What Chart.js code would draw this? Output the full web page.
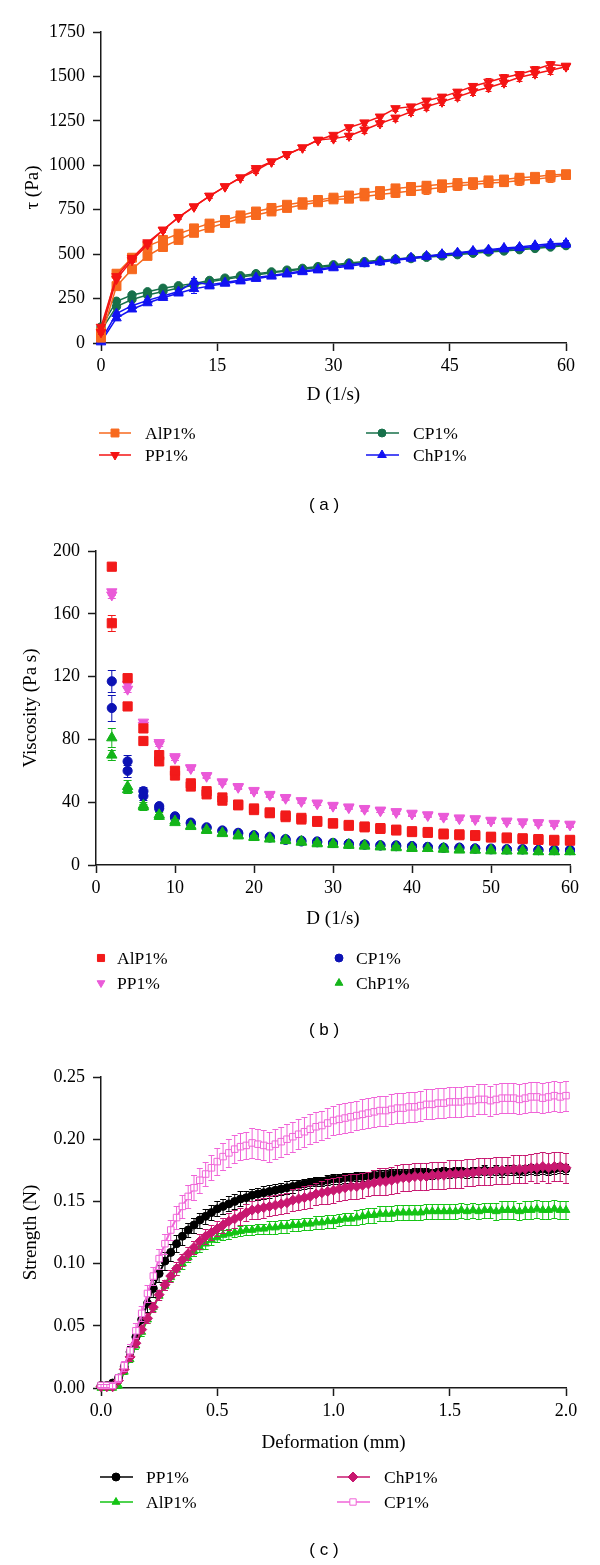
<!DOCTYPE html>
<html lang="en">
<head>
<meta charset="UTF-8">
<title>Flow curves, viscosity and texture</title>
<script src="https://cdn.jsdelivr.net/npm/chart.js"></script>
<style>
  body { margin: 0; background: #fff; }
  .panel { position: absolute; left: 0; width: 600px; }
</style>
</head>
<body>
<div class="panel" style="top:0;height:520px"><canvas id="chart-a" width="600" height="520"></canvas></div>
<div class="panel" style="top:520px;height:520px"><canvas id="chart-b" width="600" height="520"></canvas></div>
<div class="panel" style="top:1040px;height:525px"><canvas id="chart-c" width="600" height="525"></canvas></div>

<script>
// ---------- (a) shear stress vs shear rate, up and down curves ----------
const shearRate = [0,2,4,6,8,10,12,14,16,18,20,22,24,26,28,30,32,34,36,38,40,42,44,46,48,50,52,54,56,58,60];
const alpUp   = [60,390,480,545,580,615,645,672,692,718,740,760,778,792,805,818,830,845,855,870,878,885,893,900,905,915,920,930,935,945,950];
const alpDown = [30,320,415,490,540,580,620,648,675,700,720,740,760,778,792,808,812,825,835,845,855,865,875,885,892,900,905,915,922,932,945];
const ppUp    = [90,375,477,565,636,707,767,827,880,930,983,1020,1061,1099,1142,1170,1213,1240,1273,1320,1330,1363,1385,1413,1445,1469,1494,1512,1539,1567,1559];
const ppDown  = [60,360,465,555,636,707,767,827,880,930,970,1020,1061,1099,1142,1150,1165,1200,1235,1267,1301,1329,1357,1385,1415,1438,1464,1495,1515,1535,1555];
const cpUp    = [90,235,270,288,308,322,335,352,365,378,390,400,410,420,430,440,450,458,465,472,480,488,495,502,510,518,525,532,538,545,550];
const cpDown  = [70,205,245,270,290,310,325,345,358,372,383,395,405,415,425,435,444,452,460,468,475,482,490,497,505,512,518,525,532,540,548];
const chpUp   = [15,165,210,240,265,290,345,328,340,355,368,380,392,405,415,428,440,450,460,470,480,490,500,508,518,525,535,540,550,558,562];
const chpDown = [5,140,190,225,255,280,305,320,335,348,362,375,387,400,410,422,432,445,455,466,476,486,496,505,514,520,528,535,543,550,555];
const errAlpA = [10,10,10,10,10,10,12,12,12,12,14,14,14,16,16,16,18,20,22,24,24,24,24,24,24,24,24,24,24,24,24];
const errPpA  = [8,8,8,10,10,10,10,10,10,10,12,12,12,12,12,14,16,16,16,16,16,18,18,18,20,20,20,20,20,20,12];
const errCpA  = [8,8,6,6,6,6,6,6,6,6,6,6,6,6,6,6,6,6,6,6,6,6,6,6,6,6,6,8,8,8,8];
const errChpA = [6,8,8,8,8,8,22,8,8,8,8,8,8,8,8,8,8,8,8,8,10,10,10,10,10,10,10,12,14,14,16];

// ---------- (b) viscosity vs shear rate ----------
const visRate = [2,4,6,8,10,12,14,16,18,20,22,24,26,28,30,32,34,36,38,40,42,44,46,48,50,52,54,56,58,60];
const visAlpA = [190,119,87,70,60,52,47,43,38.5,36,33.5,31.5,30,28,26.5,25.5,24.5,23.5,22.5,21.5,21,20,19.5,19,18,17.5,17,16.5,16,16];
const visAlpB = [154,101,79,66,57,50,45,41,38,35,33,30.5,29,27.5,26.5,25,24,23,22,21,20.5,19.5,19,18.5,17.5,17,16.5,16,15.5,15.5];
const visPpA  = [174,115,91,78,69,62,57,53,50,47.5,45,43,41,39.5,38,37,36,35,34,33,32,31,30,29.5,28.5,28,27.5,27,26.5,26];
const visPpB  = [172,112,89,77,68,61.5,56.5,52.5,49.5,47,44.5,42.5,40.5,39,37.5,36.5,35.5,34.5,33.5,32.5,31.5,30.5,29.5,29,28,27.5,27,26.5,26,25.5];
const visCpA  = [117,66,47,37.5,31,27,24,22,20.5,19,18,16.5,15.5,15,14,13.5,13,12.5,12.5,12,11.5,11,11,10.5,10.5,10,10,9.5,9.5,9.5];
const visCpB  = [100,60,44,36,30,26.5,23.5,21.5,20,18.5,17.5,16,15,14.5,14,13.5,13,12.5,12,12,11.5,11,11,10.5,10,10,10,9.5,9.5,9.5];
const visChpA = [81,50,38,32,28,25,22.5,20.5,19,18,17,16,15,14,13.5,13,12.5,12,11.5,11,10.5,10.5,10,9.5,9.5,9,9,8.5,8.5,8.5];
const visChpB = [70,48,37,31,27,24.5,22,20,18.5,17.5,16.5,15.5,14.5,13.5,13,12.5,12,11.5,11,10.5,10.5,10,9.5,9.5,9,9,9,8.5,8.5,8.5];
const visErrAlpA = [2,1.5,1.5,1.5,1.5,1,1,1,1,1,1,1,1,1,1,1,1,1,1,1,1,1,1,1,1,1,1,1,1,1];
const visErrAlpB = [5,1.5,1.5,1.5,1.5,1,1,1,1,1,1,1,1,1,1,1,1,1,1,1,1,1,1,1,1,1,1,1,1,1];
const visErrPpA  = [2,2,1.5,1,1,1,1,1,1,1,1,1,1,1,1,1,1,1,1,1,1,1,1,1,1,1,1,1,1,1];
const visErrPpB  = [2,2,1.5,1,1,1,1,1,1,1,1,1,1,1,1,1,1,1,1,1,1,1,1,1,1,1,1,1,1,1];
const visErrCpA  = [7,4,2.5,1.5,1,1,1,1,1,1,1,1,1,1,1,1,1,1,1,1,1,1,1,1,1,1,1,1,1,1];
const visErrCpB  = [8,4,2.5,1.5,1,1,1,1,1,1,1,1,1,1,1,1,1,1,1,1,1,1,1,1,1,1,1,1,1,1];
const visErrChpA = [6,4,2,1.5,1,1,1,1,1,1,1,1,1,1,1,1,1,1,1,1,1,1,1,1,1,1,1,1,1,1];
const visErrChpB = [3,2,2,1.5,1,1,1,1,1,1,1,1,1,1,1,1,1,1,1,1,1,1,1,1,1,1,1,1,1,1];

// ---------- (c) strength vs deformation, sampled every 0.025 mm ----------
const deformation = Array.from({ length: 81 }, (_, i) => +(i * 0.025).toFixed(3));
const strPP = [
  0.002,0.002,0.004,0.008,0.017,0.029,0.041,0.055,0.068,0.080,
  0.092,0.102,0.109,0.116,0.122,0.127,0.131,0.135,0.138,0.141,
  0.144,0.146,0.148,0.150,0.152,0.153,0.155,0.156,0.157,0.158,
  0.159,0.160,0.161,0.162,0.163,0.164,0.165,0.166,0.166,0.167,
  0.168,0.168,0.169,0.169,0.170,0.170,0.170,0.171,0.171,0.171,
  0.172,0.172,0.172,0.172,0.173,0.173,0.173,0.172,0.173,0.174,
  0.173,0.174,0.174,0.173,0.174,0.174,0.175,0.174,0.175,0.174,
  0.175,0.175,0.174,0.175,0.176,0.175,0.176,0.175,0.176,0.177,
  0.176];
const strAlP = [
  0.000,0.000,0.000,0.002,0.013,0.023,0.034,0.045,0.055,0.065,
  0.074,0.082,0.089,0.095,0.100,0.105,0.110,0.113,0.116,0.119,
  0.121,0.123,0.124,0.125,0.126,0.127,0.127,0.128,0.128,0.129,
  0.129,0.130,0.130,0.131,0.131,0.132,0.132,0.133,0.133,0.134,
  0.134,0.135,0.136,0.136,0.137,0.138,0.139,0.139,0.140,0.140,
  0.140,0.141,0.141,0.141,0.141,0.141,0.142,0.142,0.142,0.142,
  0.142,0.142,0.143,0.142,0.143,0.142,0.143,0.143,0.142,0.143,
  0.143,0.143,0.142,0.143,0.143,0.144,0.143,0.143,0.144,0.143,
  0.143];
const strChP = [
  0.001,0.001,0.001,0.006,0.015,0.025,0.036,0.047,0.056,0.065,
  0.075,0.083,0.090,0.096,0.103,0.108,0.113,0.118,0.122,0.125,
  0.128,0.131,0.134,0.136,0.138,0.141,0.143,0.144,0.145,0.146,
  0.147,0.148,0.149,0.151,0.152,0.153,0.154,0.156,0.157,0.158,
  0.159,0.160,0.161,0.162,0.162,0.163,0.164,0.165,0.166,0.166,
  0.167,0.168,0.169,0.169,0.170,0.170,0.170,0.171,0.171,0.171,
  0.172,0.172,0.172,0.173,0.173,0.174,0.174,0.174,0.175,0.175,
  0.175,0.176,0.176,0.176,0.177,0.177,0.178,0.177,0.178,0.178,
  0.177];
const strCP = [
  0.002,0.002,0.002,0.008,0.018,0.030,0.046,0.060,0.076,0.090,
  0.104,0.116,0.127,0.137,0.146,0.154,0.161,0.167,0.172,0.177,
  0.182,0.186,0.189,0.192,0.194,0.195,0.197,0.196,0.195,0.194,
  0.196,0.198,0.200,0.202,0.204,0.206,0.208,0.210,0.211,0.213,
  0.215,0.216,0.217,0.218,0.219,0.220,0.221,0.222,0.223,0.223,
  0.224,0.225,0.225,0.226,0.226,0.227,0.228,0.228,0.229,0.229,
  0.230,0.230,0.230,0.231,0.231,0.232,0.232,0.231,0.232,0.233,
  0.233,0.233,0.232,0.233,0.234,0.234,0.233,0.234,0.235,0.234,
  0.235];
const errStrPP = [
  0.001,0.001,0.002,0.003,0.004,0.005,0.006,0.006,0.007,0.007,
  0.007,0.007,0.007,0.007,0.007,0.006,0.006,0.006,0.006,0.006,
  0.006,0.006,0.006,0.006,0.006,0.005,0.005,0.005,0.005,0.005,
  0.005,0.005,0.005,0.005,0.004,0.004,0.004,0.004,0.004,0.004,
  0.004,0.004,0.004,0.004,0.004,0.004,0.004,0.004,0.004,0.004,
  0.004,0.004,0.004,0.004,0.004,0.004,0.004,0.004,0.004,0.004,
  0.004,0.004,0.004,0.004,0.004,0.004,0.004,0.004,0.004,0.004,
  0.004,0.004,0.004,0.004,0.004,0.004,0.004,0.004,0.004,0.004,
  0.004];
const errStrAlP = [
  0.001,0.001,0.001,0.002,0.002,0.002,0.003,0.003,0.003,0.003,
  0.003,0.003,0.003,0.004,0.004,0.004,0.004,0.004,0.004,0.004,
  0.004,0.004,0.004,0.004,0.004,0.004,0.004,0.004,0.004,0.005,
  0.005,0.005,0.005,0.005,0.005,0.005,0.005,0.005,0.005,0.005,
  0.005,0.005,0.005,0.005,0.006,0.006,0.006,0.006,0.006,0.006,
  0.006,0.006,0.006,0.006,0.006,0.006,0.006,0.006,0.006,0.006,
  0.006,0.006,0.006,0.006,0.006,0.006,0.006,0.006,0.007,0.007,
  0.007,0.007,0.007,0.007,0.007,0.007,0.007,0.007,0.007,0.007,
  0.007];
const errStrChP = [
  0.001,0.001,0.001,0.002,0.002,0.003,0.003,0.003,0.004,0.004,
  0.004,0.004,0.005,0.005,0.005,0.005,0.005,0.006,0.006,0.006,
  0.006,0.006,0.007,0.007,0.007,0.007,0.007,0.008,0.008,0.008,
  0.008,0.008,0.008,0.009,0.009,0.009,0.009,0.009,0.009,0.010,
  0.010,0.010,0.010,0.010,0.010,0.010,0.010,0.010,0.011,0.011,
  0.011,0.011,0.011,0.011,0.011,0.011,0.011,0.011,0.011,0.011,
  0.011,0.011,0.011,0.011,0.011,0.011,0.011,0.011,0.011,0.011,
  0.011,0.011,0.011,0.011,0.011,0.012,0.012,0.012,0.012,0.012,
  0.012];
const errStrCP = [
  0.001,0.001,0.002,0.003,0.004,0.005,0.006,0.006,0.007,0.007,
  0.008,0.008,0.008,0.009,0.009,0.009,0.010,0.010,0.010,0.010,
  0.011,0.011,0.011,0.011,0.011,0.011,0.012,0.012,0.012,0.012,
  0.012,0.012,0.012,0.012,0.012,0.012,0.012,0.012,0.012,0.012,
  0.012,0.012,0.012,0.012,0.012,0.012,0.012,0.012,0.012,0.012,
  0.012,0.012,0.012,0.012,0.012,0.012,0.012,0.012,0.012,0.012,
  0.012,0.012,0.012,0.012,0.012,0.012,0.012,0.012,0.012,0.012,
  0.012,0.012,0.012,0.012,0.012,0.012,0.012,0.012,0.012,0.012,
  0.012];

const serif = '"Liberation Serif", "Times New Roman", serif';
const tickFont = { family: serif, size: 18 };
const titleFont = { family: serif, size: 19 };

// vertical error bars with caps, drawn right after each dataset
const errorBars = {
  id: 'errorBars',
  afterDatasetDraw(chart, args) {
    const ds = chart.data.datasets[args.index];
    if (!ds.errors) return;
    const ctx = chart.ctx, y = chart.scales.y;
    const w = ds.capHalf || 3;
    ctx.save();
    ctx.strokeStyle = ds.errorColor || ds.borderColor;
    ctx.lineWidth = 1;
    ctx.beginPath();
    args.meta.data.forEach((pt, i) => {
      const e = ds.errors[i];
      if (!e) return;
      const v = ds.data[i].y;
      const top = Math.round(y.getPixelForValue(v + e)) + 0.5;
      const bot = Math.round(y.getPixelForValue(v - e)) + 0.5;
      ctx.moveTo(pt.x, top); ctx.lineTo(pt.x, bot);
      ctx.moveTo(pt.x - w, top); ctx.lineTo(pt.x + w, top);
      ctx.moveTo(pt.x - w, bot); ctx.lineTo(pt.x + w, bot);
    });
    ctx.stroke();
    ctx.restore();
  }
};

// two-column legend under the axis title, plus the panel caption
const panelExtras = {
  id: 'panelExtras',
  afterDraw(chart, args, opts) {
    const ctx = chart.ctx;
    ctx.save();
    opts.items.forEach(it => {
      const ds = chart.data.datasets[it.ds];
      if (it.line) {
        ctx.strokeStyle = ds.borderColor;
        ctx.lineWidth = 1.5;
        ctx.beginPath();
        ctx.moveTo(it.line[0], it.y);
        ctx.lineTo(it.line[1], it.y);
        ctx.stroke();
      }
      ctx.fillStyle = ds.pointBackgroundColor;
      ctx.strokeStyle = ds.pointBorderColor;
      ctx.lineWidth = ds.pointBorderWidth;
      Chart.helpers.drawPoint(ctx, {
        pointStyle: ds.pointStyle,
        radius: it.r || ds.pointRadius,
        rotation: ds.pointRotation || 0,
        borderWidth: ds.pointBorderWidth
      }, it.marker, it.y);
      ctx.fillStyle = '#000';
      ctx.font = '17.5px ' + serif;
      ctx.textAlign = 'left';
      ctx.textBaseline = 'middle';
      ctx.fillText(it.label || ds.label, it.textX, it.y + 1);
    });
    ctx.font = '17px "Liberation Sans", Arial, sans-serif';
    ctx.textAlign = 'center';
    ctx.textBaseline = 'middle';
    ctx.fillStyle = '#000';
    ctx.fillText(opts.caption.text, opts.caption.x, opts.caption.y);
    ctx.restore();
  }
};

function series(label, xs, ys, errs, style) {
  return Object.assign({
    label,
    data: xs.map((x, i) => ({ x, y: ys[i] })),
    errors: errs,
    tension: 0,
    clip: false,
    pointBorderWidth: 1
  }, style);
}

function axis(min, max, step, digits, title, fitSize, titlePad, horizontal) {
  return {
    type: 'linear', min, max,
    ticks: {
      stepSize: step, autoSkip: false, maxRotation: 0, color: '#000', font: tickFont,
      padding: horizontal ? 4 : 8,
      callback: v => digits ? v.toFixed(digits) : String(v)
    },
    grid: { display: true, drawOnChartArea: false, drawTicks: true, tickLength: 8, tickColor: '#1a1a1a', tickWidth: 1.5 },
    border: { display: true, color: '#1a1a1a', width: 1.5 },
    title: { display: true, text: title, color: '#000', font: titleFont, padding: horizontal ? { top: 0, bottom: titlePad } : { top: titlePad, bottom: 0 } },
    afterFit: s => { if (horizontal) s.height = fitSize; else s.width = fitSize; }
  };
}

function makePanel(id, cfg) {
  return new Chart(document.getElementById(id), {
    type: 'line',
    data: { datasets: cfg.datasets },
    options: {
      responsive: false,
      animation: false,
      devicePixelRatio: 1,
      layout: { padding: cfg.padding },
      plugins: { legend: { display: false }, tooltip: { enabled: false }, panelExtras: cfg.extras },
      scales: { x: cfg.x, y: cfg.y }
    },
    plugins: [errorBars, panelExtras]
  });
}

// ---- panel (a)
const ORANGE = '#f7691e', RED = '#f41414', DKGREEN = '#17704a', BLUE = '#1212f2';
const lineA = (color, shape, r, rot) => ({
  borderColor: color, backgroundColor: color, borderWidth: 1.5,
  pointStyle: shape, pointRadius: r, pointRotation: rot || 0,
  pointBackgroundColor: color, pointBorderColor: color, capHalf: 3
});
makePanel('chart-a', {
  padding: { left: 0, right: 34, top: 32, bottom: 114 },
  datasets: [
    series('AlP1%', shearRate, alpUp, errAlpA, Object.assign(lineA(ORANGE, 'rect', 6.3), { order: 1 })),
    series('AlP1%', shearRate, alpDown, errAlpA, Object.assign(lineA(ORANGE, 'rect', 6.3), { order: 1 })),
    series('PP1%', shearRate, ppUp, errPpA, Object.assign(lineA(RED, 'triangle', 5.5, 180), { order: 0 })),
    series('PP1%', shearRate, ppDown, errPpA, Object.assign(lineA(RED, 'triangle', 5.5, 180), { order: 0 })),
    series('CP1%', shearRate, cpUp, errCpA, Object.assign(lineA(DKGREEN, 'circle', 4.2), { order: 3 })),
    series('CP1%', shearRate, cpDown, errCpA, Object.assign(lineA(DKGREEN, 'circle', 4.2), { order: 3 })),
    series('ChP1%', shearRate, chpUp, errChpA, Object.assign(lineA(BLUE, 'triangle', 5.5), { order: 2 })),
    series('ChP1%', shearRate, chpDown, errChpA, Object.assign(lineA(BLUE, 'triangle', 5.5), { order: 2 }))
  ],
  x: axis(0, 60, 15, 0, 'D (1/s)', 63, 0, true),
  y: axis(0, 1750, 250, 0, 'τ (Pa)', 101, 21.5, false),
  extras: {
    items: [
      { ds: 0, y: 433, line: [99, 131], marker: 115, textX: 145, r: 5.6 },
      { ds: 2, y: 455, line: [99, 131], marker: 115, textX: 145, r: 5 },
      { ds: 4, y: 433, line: [366, 399], marker: 382, textX: 413, r: 4 },
      { ds: 6, y: 455, line: [366, 399], marker: 382, textX: 413, r: 5 }
    ],
    caption: { text: '( a )', x: 324, y: 505 }
  }
});

// ---- panel (b)
const RED_B = '#f21a1a', PINK_B = '#ea5ad8', NAVY_B = '#0c12b4', GREEN_B = '#14b41a';
const dotsB = (color, shape, r, rot) => ({
  borderColor: color, backgroundColor: color, borderWidth: 0, showLine: false,
  pointStyle: shape, pointRadius: r, pointRotation: rot || 0,
  pointBackgroundColor: color, pointBorderColor: color, capHalf: 4
});
makePanel('chart-b', {
  padding: { left: 0, right: 30, top: 31, bottom: 110 },
  datasets: [
    series('AlP1%', visRate, visAlpA, visErrAlpA, Object.assign(dotsB(RED_B, 'rect', 6.5), { order: 0 })),
    series('AlP1%', visRate, visAlpB, visErrAlpB, Object.assign(dotsB(RED_B, 'rect', 6.5), { order: 0 })),
    series('PP1%', visRate, visPpA, visErrPpA, Object.assign(dotsB(PINK_B, 'triangle', 6, 180), { order: 1 })),
    series('PP1%', visRate, visPpB, visErrPpB, Object.assign(dotsB(PINK_B, 'triangle', 6, 180), { order: 1 })),
    series('CP1%', visRate, visCpA, visErrCpA, Object.assign(dotsB(NAVY_B, 'circle', 4.6), { order: 3 })),
    series('CP1%', visRate, visCpB, visErrCpB, Object.assign(dotsB(NAVY_B, 'circle', 4.6), { order: 3 })),
    series('ChP1%', visRate, visChpA, visErrChpA, Object.assign(dotsB(GREEN_B, 'triangle', 6), { order: 2 })),
    series('ChP1%', visRate, visChpB, visErrChpB, Object.assign(dotsB(GREEN_B, 'triangle', 6), { order: 2 }))
  ],
  x: axis(0, 60, 10, 0, 'D (1/s)', 65, 0, true),
  y: axis(0, 200, 40, 0, 'Viscosity (Pa s)', 96, 19.5, false),
  extras: {
    items: [
      { ds: 0, y: 438, marker: 101, textX: 117, r: 5 },
      { ds: 2, y: 463, marker: 101, textX: 117, r: 4.5 },
      { ds: 4, y: 438, marker: 339, textX: 356, r: 4 },
      { ds: 6, y: 463, marker: 339, textX: 356, r: 4.5 }
    ],
    caption: { text: '( b )', x: 324, y: 510 }
  }
});

// ---- panel (c)
const PINK_C = '#f064d8', MAGENTA_C = '#c81870', GREEN_C = '#14c414', BLACK_C = '#000000';
const lineC = (color, shape, r, fill) => ({
  borderColor: color, backgroundColor: fill, borderWidth: 2,
  pointStyle: shape, pointRadius: r,
  pointBackgroundColor: fill, pointBorderColor: color, capHalf: 3
});
makePanel('chart-c', {
  padding: { left: 0, right: 34, top: 37, bottom: 111 },
  datasets: [
    series('PP1%', deformation, strPP, errStrPP, Object.assign(lineC(BLACK_C, 'circle', 4, BLACK_C), { order: 2 })),
    series('AlP1%', deformation, strAlP, errStrAlP, Object.assign(lineC(GREEN_C, 'triangle', 4.6, GREEN_C), { order: 3 })),
    series('ChP1%', deformation, strChP, errStrChP, Object.assign(lineC(MAGENTA_C, 'rectRot', 5, MAGENTA_C), { order: 1 })),
    series('CP1%', deformation, strCP, errStrCP, Object.assign(lineC(PINK_C, 'rect', 4.6, '#ffffff'), { order: 0 }))
  ],
  x: axis(0, 2, 0.5, 1, 'Deformation (mm)', 66, 0, true),
  y: axis(0, 0.25, 0.05, 2, 'Strength (N)', 101, 19.5, false),
  extras: {
    items: [
      { ds: 0, y: 437, line: [100, 133], marker: 116, textX: 146, r: 4 },
      { ds: 1, y: 462, line: [100, 133], marker: 116, textX: 146, r: 4.5 },
      { ds: 2, y: 437, line: [337, 370], marker: 353, textX: 384, r: 5 },
      { ds: 3, y: 462, line: [337, 370], marker: 353, textX: 384, r: 4.5 }
    ],
    caption: { text: '( c )', x: 324, y: 510 }
  }
});
</script>
</body>
</html>
